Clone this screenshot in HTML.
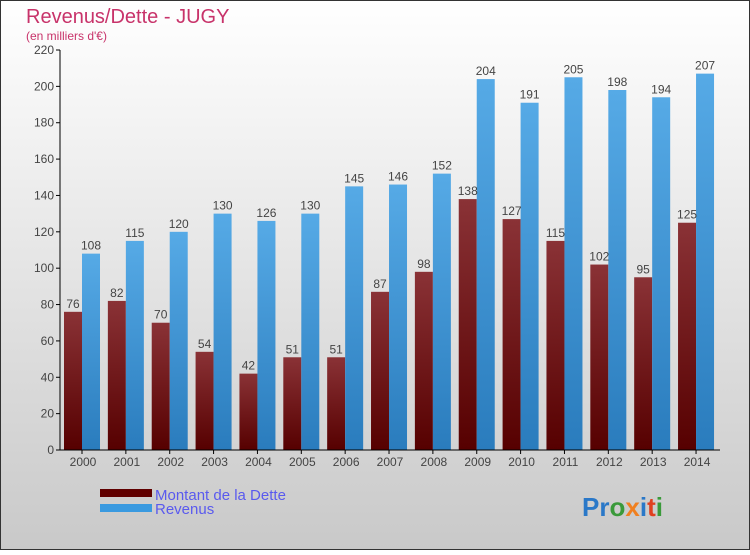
<!DOCTYPE html>
<html><head><meta charset="utf-8"><style>
html,body{margin:0;padding:0;}
body{width:750px;height:550px;overflow:hidden;font-family:"Liberation Sans",sans-serif;}
</style></head><body>
<svg id="chart" width="750" height="550" xmlns="http://www.w3.org/2000/svg">
<defs>
<linearGradient id="bg" x1="0" y1="0" x2="0" y2="1"><stop offset="0" stop-color="#ffffff"/><stop offset="1" stop-color="#c9c9c9"/></linearGradient>
<linearGradient id="gd" x1="0" y1="0" x2="0" y2="1"><stop offset="0" stop-color="#8a3236"/><stop offset="1" stop-color="#560000"/></linearGradient>
<linearGradient id="gr" x1="0" y1="0" x2="0" y2="1"><stop offset="0" stop-color="#56aae6"/><stop offset="1" stop-color="#2a7cbd"/></linearGradient>
</defs>
<rect x="0.5" y="0.5" width="749" height="549" fill="url(#bg)" stroke="#333"/>
<text x="26" y="23" font-size="20" fill="#c8336a">Revenus/Dette - JUGY</text>
<text x="26" y="40" font-size="12" fill="#c8336a">(en milliers d'€)</text>
<g id="grid"></g>
<g id="bars"></g>
<g id="axes"></g>
<g>
<rect x="100" y="489" width="52" height="8" fill="#600000"/>
<text x="155" y="500" font-size="15" fill="#5a5aee">Montant de la Dette</text>
<rect x="100" y="504" width="52" height="8" fill="#3a9ae0"/>
<text x="155" y="514" font-size="15" fill="#5a5aee">Revenus</text>
</g>
<text x="582" y="516" font-size="26" font-weight="bold"><tspan fill="#2a78c8">Pr</tspan><tspan fill="#3a9a3a">o</tspan><tspan fill="#f08020">x</tspan><tspan fill="#2a78c8">i</tspan><tspan fill="#e04020">t</tspan><tspan fill="#3a9a3a">i</tspan></text>
</svg>
<script>
const years=["2000","2001","2002","2003","2004","2005","2006","2007","2008","2009","2010","2011","2012","2013","2014"];
const dette=[76,82,70,54,42,51,51,87,98,138,127,115,102,95,125];
const revenus=[108,115,120,130,126,130,145,146,152,204,191,205,198,194,207];
const yTicks=[0,20,40,60,80,100,120,140,160,180,200,220];
const NS="http://www.w3.org/2000/svg";
const y=v=>450-v*400/220;
const xc=i=>82+i*43.86;
function mk(tag,attrs,parent,text){const e=document.createElementNS(NS,tag);for(const k in attrs)e.setAttribute(k,attrs[k]);if(text!==undefined)e.textContent=text;parent.appendChild(e);return e;}
const axes=document.getElementById('axes'),bars=document.getElementById('bars');
mk('line',{x1:60,y1:50,x2:60,y2:450,stroke:'#000'},axes);
mk('line',{x1:60,y1:450,x2:720,y2:450,stroke:'#000'},axes);
yTicks.forEach(t=>{
 mk('line',{x1:56,y1:y(t),x2:60,y2:y(t),stroke:'#000'},axes);
 const l=mk('text',{x:54,y:y(t)+4,'font-size':12,'text-anchor':'end',fill:'#444'},axes,String(t));
 
 
});
years.forEach((yr,i)=>{
 const c=xc(i);
 mk('line',{x1:c,y1:450,x2:c,y2:454,stroke:'#000'},axes);
 const l=mk('text',{x:c+1,y:466,'font-size':12,'text-anchor':'middle',fill:'#444'},axes,yr);
 
 
 const b1=mk('rect',{x:c-18,y:y(dette[i]),width:18,height:450-y(dette[i]),fill:'url(#gd)'},bars);
 
 
 const b2=mk('rect',{x:c,y:y(revenus[i]),width:18,height:450-y(revenus[i]),fill:'url(#gr)'},bars);
 
 
 const t1=mk('text',{x:c-9,y:y(dette[i])-4,'font-size':12,'text-anchor':'middle',fill:'#444'},bars,String(dette[i]));
 
 
 const t2=mk('text',{x:c+9,y:y(revenus[i])-4,'font-size':12,'text-anchor':'middle',fill:'#444'},bars,String(revenus[i]));
 
 
});
</script>
</body></html>
